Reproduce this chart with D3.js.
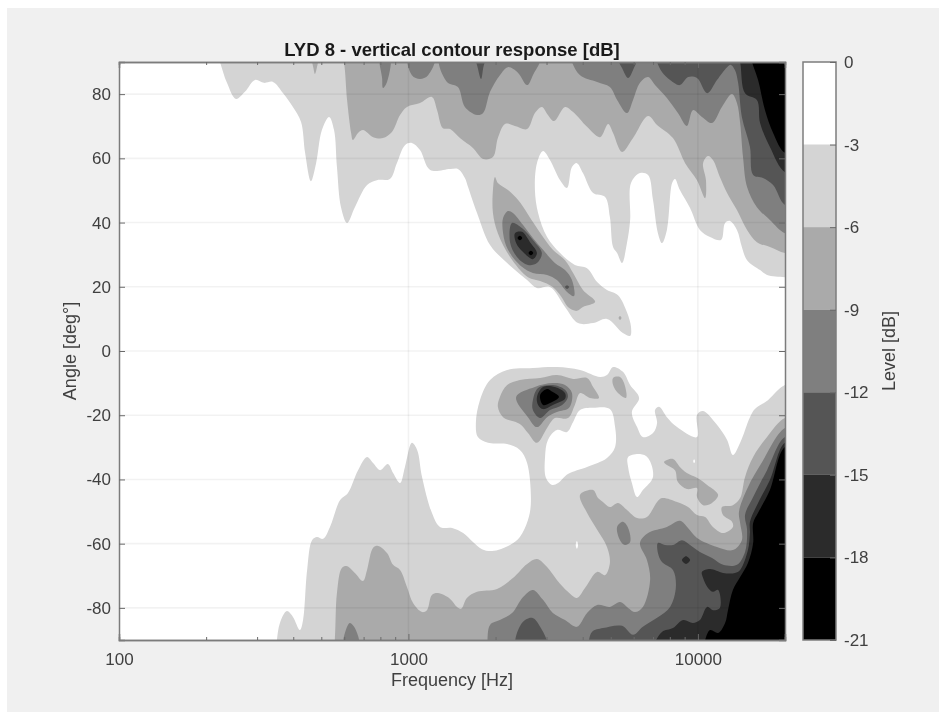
<!DOCTYPE html>
<html>
<head>
<meta charset="utf-8">
<script src="https://cdn.jsdelivr.net/npm/d3@7"></script>
<style>
  html, body { margin: 0; padding: 0; background: #fff; }
  svg { display: block; font-family: "Liberation Sans", Arial, sans-serif; filter: blur(0.6px); }
</style>
</head>
<body>
<div id="chart"></div>
<script>
// colour levels [dB]
var levels = [0, -3, -6, -9, -12, -15, -18, -21];
var bandGreys = ["#ffffff", "#d4d4d4", "#aaaaaa", "#7f7f7f", "#555555", "#2b2b2b", "#000000"];

var xTicks = [100, 1000, 10000];
var xMinor = [200, 300, 400, 500, 600, 700, 800, 900, 2000, 3000, 4000, 5000, 6000, 7000, 8000, 9000];
var yTicks = [-80, -60, -40, -20, 0, 20, 40, 60, 80];

// contour outlines, each point is [log10(Hz), angle in deg]
// points past 4.301 / +-90 sit outside the axes and get clipped
var contour3 = [
  [[2.33,96],[2.349,90],[2.373,83.5],[2.404,78.5],[2.435,80.7],[2.47,84.4],[2.501,83.5],[2.532,83.8],[2.567,80.3],[2.601,76],[2.629,71.3],[2.643,61.7],[2.663,52.9],[2.681,58.5],[2.701,68.8],[2.726,72.9],[2.743,68.8],[2.753,57.3],[2.767,44.8],[2.788,39.9],[2.815,44.8],[2.857,51.7],[2.891,53.2],[2.936,53.6],[2.96,58.5],[2.988,64.1],[3.012,64.8],[3.04,62.6],[3.075,56.4],[3.144,56.7],[3.171,56.7],[3.195,53.9],[3.206,51.1],[3.237,43],[3.282,33],[3.341,27.4],[3.41,22.1],[3.444,19.6],[3.489,19.9],[3.541,13.7],[3.586,8.7],[3.638,8.7],[3.686,10],[3.741,5.6],[3.766,4.7],[3.769,7.5],[3.755,12.1],[3.724,17.4],[3.686,19],[3.652,21.5],[3.617,25.8],[3.575,26.8],[3.524,30.5],[3.479,35.5],[3.448,43],[3.437,50.1],[3.444,58.5],[3.465,62.3],[3.489,59.5],[3.524,53.2],[3.548,50.8],[3.565,57.3],[3.582,58.5],[3.603,55.4],[3.638,49.2],[3.679,48],[3.696,41.7],[3.707,32.4],[3.721,30.5],[3.738,27.4],[3.755,33.6],[3.766,40.8],[3.769,52.3],[3.8,55.4],[3.828,54.8],[3.845,47],[3.862,36.7],[3.876,33.6],[3.893,37.7],[3.911,52.3],[3.921,53.6],[3.938,50.1],[3.973,44.5],[4.007,37.7],[4.042,35.5],[4.08,34.6],[4.094,39.9],[4.111,40.5],[4.135,37.7],[4.152,32.4],[4.17,28.3],[4.215,25.2],[4.239,23.7],[4.301,23],[4.36,23],[4.36,96]],
  [[2.53,-96],[2.542,-92],[2.556,-84.7],[2.58,-81],[2.601,-82.8],[2.625,-86.9],[2.636,-83.8],[2.65,-68.2],[2.667,-58.9],[2.684,-57.9],[2.705,-58.5],[2.729,-54.8],[2.764,-46.4],[2.791,-44.2],[2.826,-37.1],[2.857,-33],[2.878,-34.9],[2.902,-37.1],[2.929,-35.2],[2.947,-38],[2.971,-41.1],[2.988,-36.1],[3.012,-28.6],[3.03,-30.8],[3.047,-39.2],[3.081,-50.4],[3.109,-54.8],[3.151,-55.1],[3.189,-56.7],[3.223,-59.5],[3.254,-61.7],[3.289,-62.3],[3.351,-60.4],[3.385,-57.9],[3.413,-52.6],[3.423,-47.3],[3.41,-34.9],[3.385,-30.8],[3.341,-29],[3.275,-28.6],[3.24,-26.8],[3.233,-22.4],[3.247,-15.3],[3.282,-9],[3.341,-5.9],[3.43,-5.3],[3.513,-5],[3.593,-5.9],[3.662,-8.1],[3.686,-7.5],[3.707,-5],[3.741,-6.5],[3.766,-10.6],[3.797,-14.6],[3.772,-19],[3.79,-23.7],[3.81,-26.8],[3.845,-25.5],[3.859,-22.4],[3.852,-18.4],[3.866,-17.4],[3.893,-20.6],[3.928,-23.7],[3.997,-26.8],[3.997,-19.9],[4.018,-18.7],[4.066,-23],[4.101,-27.7],[4.121,-32.4],[4.146,-28.6],[4.18,-20.6],[4.197,-18.1],[4.242,-15.3],[4.301,-10.6],[4.36,-10.6],[4.36,-96]]
];

// white pockets inside the -3 band
var pockets3 = [
  [[3.513,-24.6],[3.548,-25.2],[3.569,-22.1],[3.593,-18.4],[3.638,-17.7],[3.696,-18.1],[3.714,-23.7],[3.714,-29.9],[3.686,-33.3],[3.617,-36.1],[3.551,-38.3],[3.517,-41.1],[3.496,-41.7],[3.475,-39.5],[3.472,-33],[3.482,-27.7]],
  [[3.759,-33],[3.8,-32.1],[3.828,-33.3],[3.845,-39.2],[3.81,-43.3],[3.79,-45.5],[3.772,-41.1],[3.759,-36.1]],
  [[4.107,64.5],[4.111,65.8],[4.115,64.5],[4.111,63.1]],
  [[3.578,-60.4],[3.582,-59.2],[3.586,-60.4],[3.582,-61.6]],
  [[3.984,-34.3],[3.987,-33.7],[3.99,-34.3],[3.987,-34.9]],
  [[2.846,91],[2.854,91],[2.851,87.5],[2.849,87.5]]
];

var contour6 = [
  [[2.667,92],[2.672,88],[2.677,86.3],[2.683,88],[2.688,92]],
  [[2.76,96],[2.777,90],[2.788,78.2],[2.802,67.9],[2.808,65.7],[2.826,67.9],[2.843,68.8],[2.878,66.6],[2.912,66.3],[2.943,68.2],[2.971,73.5],[2.995,76],[3.04,77.2],[3.081,79.1],[3.099,75],[3.119,69.4],[3.144,69.1],[3.178,66.3],[3.223,63.2],[3.258,59.8],[3.292,60.4],[3.309,66.3],[3.334,70.7],[3.368,70.1],[3.41,69.1],[3.437,74.1],[3.461,76],[3.482,73.5],[3.503,71.6],[3.541,76],[3.569,74.4],[3.617,69.8],[3.662,66.6],[3.69,70.7],[3.707,67.9],[3.738,62],[3.776,66.3],[3.828,73.2],[3.859,70.4],[3.914,66.3],[3.956,58.5],[3.997,53.2],[4.025,47.6],[4.028,53.2],[4.018,58.5],[4.035,60.7],[4.052,59.5],[4.076,54.2],[4.101,49.2],[4.135,43.9],[4.17,37.7],[4.204,33.9],[4.249,32.4],[4.301,30.5],[4.36,30.5],[4.36,96]],
  [[3.299,54.2],[3.309,52.3],[3.344,50.1],[3.379,47],[3.41,43],[3.437,39.2],[3.465,35.5],[3.499,31.5],[3.541,28.3],[3.569,24.3],[3.603,19],[3.645,15.3],[3.603,13.7],[3.582,12.5],[3.551,13.7],[3.531,16.5],[3.499,19.9],[3.455,21.8],[3.413,23],[3.351,29.3],[3.309,36.7],[3.292,43],[3.292,50.1]],
  [[3.726,10.3],[3.731,10.9],[3.736,10.3],[3.731,9.7]],
  [[3.316,-14.3],[3.341,-10.6],[3.385,-9],[3.455,-8.4],[3.513,-7.5],[3.569,-8.7],[3.617,-8.4],[3.638,-11.2],[3.658,-14.6],[3.627,-14.6],[3.593,-13.1],[3.575,-16.8],[3.551,-20.9],[3.506,-20.9],[3.479,-24],[3.444,-28.6],[3.413,-25.5],[3.385,-22.7],[3.327,-20.6],[3.309,-17.4]],
  [[3.707,-8.4],[3.731,-8.1],[3.745,-10],[3.752,-14.6],[3.724,-13.1],[3.707,-10.6]],
  [[3.883,-34.6],[3.914,-33.6],[3.938,-36.1],[3.962,-38],[3.997,-39.5],[4.032,-41.7],[4.07,-44.8],[4.049,-47.3],[4.018,-48],[3.997,-45.5],[3.997,-42.7],[3.962,-43],[3.931,-40.8],[3.921,-37.1],[3.893,-35.5]],
  [[2.73,-96],[2.743,-92],[2.753,-75.4],[2.77,-67.6],[2.788,-67],[2.815,-69.1],[2.843,-71.6],[2.857,-68.2],[2.878,-61.3],[2.895,-60.7],[2.926,-62.9],[2.947,-66.6],[2.971,-68.2],[2.995,-73.5],[3.016,-78.5],[3.047,-81.3],[3.064,-80.7],[3.081,-76],[3.102,-75.4],[3.144,-77.2],[3.168,-79.7],[3.182,-80.3],[3.202,-76.9],[3.237,-75],[3.306,-74.1],[3.361,-70.7],[3.41,-66.3],[3.444,-64.8],[3.479,-67.3],[3.513,-71.3],[3.551,-75],[3.582,-76.9],[3.61,-73.8],[3.652,-68.8],[3.679,-69.8],[3.696,-66],[3.686,-61],[3.652,-55.7],[3.617,-50.4],[3.593,-44.8],[3.638,-43.3],[3.655,-45.8],[3.672,-47],[3.696,-48.6],[3.724,-47.3],[3.755,-49.5],[3.79,-52],[3.824,-51.7],[3.859,-47],[3.876,-45.8],[3.928,-47],[3.966,-48.6],[3.997,-51.1],[4.025,-51.7],[4.052,-54.8],[4.087,-56.7],[4.121,-54.8],[4.118,-53.2],[4.087,-51.1],[4.083,-48.6],[4.121,-48],[4.146,-45.8],[4.163,-39.2],[4.191,-33],[4.239,-26.8],[4.301,-20.9],[4.36,-20.9],[4.36,-96]]
];

var contour9 = [
  [[2.902,92],[2.909,85],[2.912,81.9],[2.926,83.8],[2.936,92]],
  [[2.999,92],[3.012,85.9],[3.04,84.7],[3.068,85.9],[3.092,92]],
  [[3.109,92],[3.133,83.8],[3.171,82.2],[3.195,76],[3.237,73.5],[3.258,74.1],[3.282,80.7],[3.316,85.9],[3.344,88.4],[3.379,86.6],[3.41,82.8],[3.43,85.9],[3.455,92]],
  [[3.55,96],[3.565,90],[3.593,85.9],[3.652,83.8],[3.696,82.2],[3.721,78.2],[3.755,74.1],[3.776,78.2],[3.8,83.5],[3.828,85.3],[3.852,82.8],[3.893,78.8],[3.931,74.1],[3.962,70.1],[3.983,75],[4.014,72.9],[4.049,71],[4.083,76],[4.118,80],[4.135,77.2],[4.146,71],[4.156,60.4],[4.17,51.1],[4.204,44.8],[4.249,40.8],[4.301,36.7],[4.36,36.7],[4.36,96]],
  [[3.344,43.6],[3.361,43],[3.396,39.2],[3.43,35.2],[3.465,31.5],[3.506,27.4],[3.541,25.2],[3.565,22.1],[3.572,17.1],[3.548,18.4],[3.513,22.1],[3.479,23.7],[3.43,24.3],[3.392,26.2],[3.344,31.5],[3.327,36.7],[3.327,41.4]],
  [[3.372,-14.3],[3.437,-11.2],[3.499,-10],[3.541,-10.6],[3.565,-13.1],[3.555,-17.7],[3.513,-19],[3.479,-20.6],[3.444,-23.7],[3.413,-20.6]],
  [[2.777,-92],[2.788,-85.9],[2.798,-84.7],[2.815,-86.3],[2.829,-92]],
  [[3.721,-54.8],[3.741,-53.2],[3.759,-55.1],[3.766,-59.5],[3.748,-60.4],[3.731,-58.9]],
  [[3.26,-96],[3.271,-92],[3.282,-85.3],[3.316,-83.8],[3.358,-81.6],[3.396,-76.6],[3.43,-74.4],[3.465,-77.5],[3.499,-81.6],[3.541,-83.8],[3.582,-85.9],[3.617,-81.6],[3.652,-79.1],[3.696,-79.7],[3.731,-78.2],[3.759,-80],[3.783,-81.3],[3.81,-79.7],[3.835,-71.3],[3.824,-65.1],[3.8,-59.8],[3.828,-56.7],[3.893,-54.8],[3.938,-52.9],[3.966,-55.1],[3.997,-58.2],[4.066,-61],[4.121,-62],[4.152,-58.9],[4.146,-53.6],[4.142,-50.1],[4.173,-42.4],[4.222,-34.6],[4.301,-24],[4.36,-24],[4.36,-96]]
];

var contour12 = [
  [[3.233,92],[3.24,88],[3.251,84.7],[3.258,88],[3.265,92]],
  [[3.721,92],[3.738,88.1],[3.759,85],[3.776,87.5],[3.79,92]],
  [[3.845,96],[3.859,90],[3.876,86.9],[3.904,84.4],[3.938,82.8],[3.966,85.3],[3.997,85],[4.032,80.3],[4.066,84.4],[4.101,88.4],[4.114,89.1],[4.128,87.5],[4.139,83.5],[4.152,72.9],[4.18,63.5],[4.191,54.8],[4.225,53.9],[4.26,51.7],[4.301,45.5],[4.36,45.5],[4.36,96]],
  [[3.358,39.9],[3.392,38.3],[3.43,34.6],[3.461,30.5],[3.444,27.4],[3.413,26.8],[3.375,29.3],[3.351,33.9]],
  [[3.541,19.9],[3.548,20.5],[3.555,19.9],[3.548,19.3]],
  [[3.43,-15.3],[3.448,-11.5],[3.499,-10.6],[3.541,-12.1],[3.551,-14.3],[3.531,-16.8],[3.489,-18.4],[3.455,-20.9],[3.43,-18.4]],
  [[3.372,-92],[3.392,-84.7],[3.427,-83.1],[3.455,-85.9],[3.479,-92]],
  [[3.61,-96],[3.62,-92],[3.634,-87.5],[3.672,-86.3],[3.738,-85.6],[3.776,-88.4],[3.81,-85.9],[3.859,-83.1],[3.904,-79.7],[3.924,-73.5],[3.914,-68.2],[3.876,-65.7],[3.862,-62.9],[3.862,-59.8],[3.886,-60.4],[3.914,-60.4],[3.945,-58.9],[3.973,-60.4],[4.007,-62.6],[4.049,-64.5],[4.087,-66.6],[4.135,-66.6],[4.163,-62.6],[4.17,-55.7],[4.163,-51.1],[4.191,-45.5],[4.239,-37.1],[4.301,-26.8],[4.36,-26.8],[4.36,-96]]
];

var contour15 = [
  [[4.13,96],[4.146,90],[4.163,80.3],[4.204,78.2],[4.215,71],[4.249,63.5],[4.301,55.7],[4.36,55.7],[4.36,96]],
  [[3.368,36.7],[3.392,37.1],[3.42,33.9],[3.444,30.5],[3.43,28.6],[3.396,30.8],[3.372,33.6]],
  [[3.444,-14.3],[3.465,-11.2],[3.506,-11.2],[3.541,-13.1],[3.541,-14.9],[3.499,-16.8],[3.465,-18.1],[3.448,-16.8]],
  [[3.945,-65.1],[3.959,-63.9],[3.973,-65.1],[3.959,-66.3]],
  [[3.83,-96],[3.845,-92],[3.876,-87.5],[3.914,-86.3],[3.949,-83.8],[3.983,-84.7],[4.007,-83.8],[4.032,-79.7],[4.052,-80.7],[4.076,-80],[4.07,-74.4],[4.052,-75],[4.035,-73.8],[4.018,-70.7],[4.014,-68.8],[4.042,-67.9],[4.087,-69.1],[4.128,-69.1],[4.146,-68.2],[4.173,-62],[4.18,-56.7],[4.18,-53.2],[4.208,-47.3],[4.249,-40.2],[4.301,-28.6],[4.36,-28.6],[4.36,-96]]
];

var contour18 = [
  [[4.17,96],[4.187,90],[4.208,84.4],[4.232,75],[4.26,67.9],[4.301,61.7],[4.36,61.7],[4.36,96]],
  [[3.377,35.2],[3.385,35.9],[3.393,35.2],[3.385,34.5]],
  [[3.415,30.5],[3.423,31.2],[3.431,30.5],[3.423,29.8]],
  [[3.455,-13.7],[3.479,-11.8],[3.499,-12.8],[3.52,-14.3],[3.489,-16.2],[3.465,-16.8]],
  [[4.0,-96],[4.018,-92],[4.042,-86.9],[4.07,-87.8],[4.094,-84.7],[4.104,-80.7],[4.121,-74.4],[4.146,-70.4],[4.173,-66],[4.191,-59.8],[4.191,-53.6],[4.208,-50.4],[4.249,-43.3],[4.301,-29.9],[4.36,-29.9],[4.36,-96]]
];

// painted bottom up, darker bands over lighter ones
var paintOrder = [
  {grey: 1, rings: contour3},
  {grey: 0, rings: pockets3},
  {grey: 2, rings: contour6},
  {grey: 3, rings: contour9},
  {grey: 4, rings: contour12},
  {grey: 5, rings: contour15},
  {grey: 6, rings: contour18}
];

var svgWidth = 939;
var svgHeight = 712;
var margin = {top: 62, right: 154, bottom: 72, left: 119};
var width = svgWidth - margin.left - margin.right;
var height = svgHeight - margin.top - margin.bottom;
var inkColor = "#404040";
var axisColor = "#7c7c7c";
var tickFontSize = "17px";
var labelFontSize = "18px";

var svg = d3.select("#chart").append("svg")
  .attr("width", svgWidth)
  .attr("height", svgHeight);

// grey figure panel, the shot has a thin white edge top and left
svg.append("rect")
  .attr("x", 7).attr("y", 8)
  .attr("width", svgWidth - 7).attr("height", svgHeight - 8)
  .attr("fill", "#f0f0f0");

var x = d3.scaleLog().domain([100, 20000]).range([0, width]);
var y = d3.scaleLinear().domain([-90, 90]).range([height, 0]);

var chartGroup = svg.append("g")
  .attr("transform", `translate(${margin.left}, ${margin.top})`);

svg.append("defs").append("clipPath").attr("id", "plotClip")
  .append("rect").attr("width", width).attr("height", height);

var contourLine = d3.line()
  .x(d => x(Math.pow(10, d[0])))
  .y(d => y(d[1]))
  .curve(d3.curveCatmullRomClosed.alpha(0.5));

var plot = chartGroup.append("g").attr("clip-path", "url(#plotClip)");

plot.append("rect").attr("width", width).attr("height", height).attr("fill", "#fff");

paintOrder.forEach(function(band) {
  plot.append("g").selectAll("path")
    .data(band.rings)
    .enter()
    .append("path")
    .attr("d", contourLine)
    .attr("fill", bandGreys[band.grey]);
});

// grid sits over the filled contours
var gridGroup = chartGroup.append("g")
  .attr("stroke", "#000")
  .attr("stroke-opacity", 0.05)
  .attr("stroke-width", 1.6);

gridGroup.selectAll(".vgrid").data([1000, 10000]).enter().append("line")
  .attr("x1", d => x(d)).attr("x2", d => x(d))
  .attr("y1", 0).attr("y2", height);

gridGroup.selectAll(".hgrid").data(yTicks).enter().append("line")
  .attr("x1", 0).attr("x2", width)
  .attr("y1", d => y(d)).attr("y2", d => y(d));

function styleAxis(g) {
  g.select(".domain").attr("stroke", axisColor).attr("stroke-width", 1.5);
  g.selectAll(".tick line").attr("stroke", "#6a6a6a").attr("stroke-width", 1);
  g.selectAll(".tick text")
    .attr("fill", inkColor)
    .attr("font-size", tickFontSize)
    .attr("font-family", "Liberation Sans, Arial, sans-serif");
}

// bottom and top, major then minor
var bottomAxis = d3.axisBottom(x).tickValues(xTicks).tickFormat(String).tickSize(-6).tickPadding(13);
chartGroup.append("g").attr("transform", `translate(0, ${height})`).call(bottomAxis).call(styleAxis);

chartGroup.append("g").attr("transform", `translate(0, ${height})`)
  .call(d3.axisBottom(x).tickValues(xMinor).tickFormat("").tickSize(-3)).call(styleAxis);

chartGroup.append("g")
  .call(d3.axisTop(x).tickValues(xTicks).tickFormat("").tickSize(-6)).call(styleAxis);

chartGroup.append("g")
  .call(d3.axisTop(x).tickValues(xMinor).tickFormat("").tickSize(-3)).call(styleAxis);

// left and right
var leftAxis = d3.axisLeft(y).tickValues(yTicks).tickFormat(String).tickSize(-6).tickPadding(8);
chartGroup.append("g").call(leftAxis).call(styleAxis);

chartGroup.append("g").attr("transform", `translate(${width}, 0)`)
  .call(d3.axisRight(y).tickValues(yTicks).tickFormat("").tickSize(-6)).call(styleAxis);

// title and axis labels
chartGroup.append("text")
  .attr("x", width / 2).attr("y", -6)
  .attr("text-anchor", "middle")
  .attr("font-size", "18.5px")
  .attr("font-weight", "bold")
  .attr("fill", "#1a1a1a")
  .text("LYD 8 - vertical contour response [dB]");

chartGroup.append("text")
  .attr("x", width / 2).attr("y", height + 46)
  .attr("text-anchor", "middle")
  .attr("font-size", labelFontSize)
  .attr("fill", inkColor)
  .text("Frequency [Hz]");

chartGroup.append("text")
  .attr("transform", "rotate(-90)")
  .attr("x", -height / 2).attr("y", -43)
  .attr("text-anchor", "middle")
  .attr("font-size", labelFontSize)
  .attr("fill", inkColor)
  .text("Angle [deg°]");

// colorbar
var barLeft = 803;
var barWidth = 33;
var barScale = d3.scaleLinear().domain([0, -21]).range([0, height]);

var barGroup = svg.append("g")
  .attr("transform", `translate(${barLeft}, ${margin.top})`);

barGroup.selectAll("rect")
  .data(bandGreys)
  .enter()
  .append("rect")
  .attr("x", 0)
  .attr("y", (d, i) => barScale(levels[i]))
  .attr("width", barWidth)
  .attr("height", (d, i) => barScale(levels[i + 1]) - barScale(levels[i]))
  .attr("fill", d => d);

barGroup.append("rect")
  .attr("width", barWidth).attr("height", height)
  .attr("fill", "none")
  .attr("stroke", axisColor)
  .attr("stroke-width", 1.5);

barGroup.append("g").attr("transform", `translate(${barWidth}, 0)`)
  .call(d3.axisRight(barScale).tickValues(levels).tickFormat(String).tickSize(-6).tickPadding(8))
  .call(styleAxis);

barGroup.selectAll(".domain").attr("stroke", "none");

barGroup.append("text")
  .attr("transform", "rotate(-90)")
  .attr("x", -height / 2).attr("y", 92)
  .attr("text-anchor", "middle")
  .attr("font-size", labelFontSize)
  .attr("fill", inkColor)
  .text("Level [dB]");
</script>
</body>
</html>
